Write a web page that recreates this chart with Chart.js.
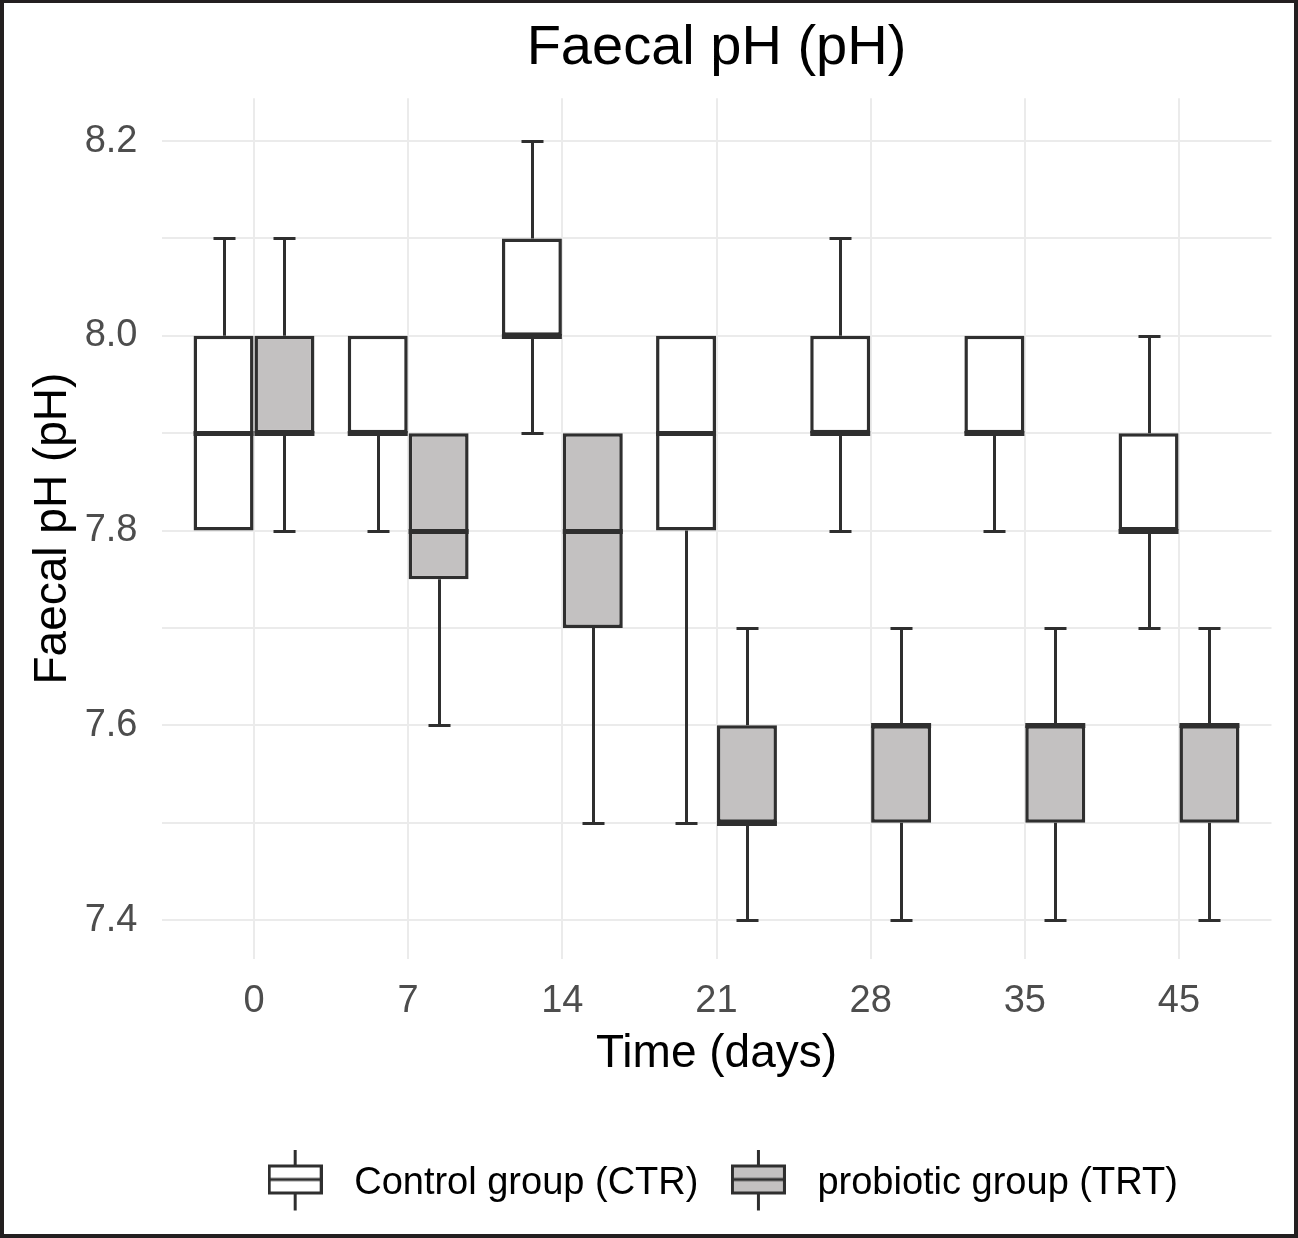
<!DOCTYPE html>
<html>
<head>
<meta charset="utf-8">
<title>Faecal pH (pH)</title>
<script src="https://cdn.jsdelivr.net/npm/chart.js@4.4.1/dist/chart.umd.min.js"></script>
<style>
  html, body { margin: 0; padding: 0; background: #fff; }
  #chart { display: block; }
</style>
</head>
<body>
<canvas id="chart" width="1298" height="1238"></canvas>
<script>
// sampling days (x categories)
const days = ['0', '7', '14', '21', '28', '35', '45'];

// control group (CTR) box statistics
const ctrMin    = [7.8, 7.8, 7.9, 7.5, 7.8, 7.8, 7.7];
const ctrQ1     = [7.8, 7.9, 8.0, 7.8, 7.9, 7.9, 7.8];
const ctrMedian = [7.9, 7.9, 8.0, 7.9, 7.9, 7.9, 7.8];
const ctrQ3     = [8.0, 8.0, 8.1, 8.0, 8.0, 8.0, 7.9];
const ctrMax    = [8.1, 8.0, 8.2, 8.0, 8.1, 8.0, 8.0];

// probiotic group (TRT) box statistics
const trtMin    = [7.8, 7.6, 7.5, 7.4, 7.4, 7.4, 7.4];
const trtQ1     = [7.9, 7.75, 7.7, 7.5, 7.5, 7.5, 7.5];
const trtMedian = [7.9, 7.8, 7.8, 7.5, 7.6, 7.6, 7.6];
const trtQ3     = [8.0, 7.9, 7.9, 7.6, 7.6, 7.6, 7.6];
const trtMax    = [8.1, 7.9, 7.9, 7.7, 7.7, 7.7, 7.7];

const groupNames = ['Control group (CTR)', 'probiotic group (TRT)'];

// y grid (major + minor) and labelled ticks
const yGridValues = [7.4, 7.5, 7.6, 7.7, 7.8, 7.9, 8.0, 8.1, 8.2];
const yTickLabels = ['7.4', '7.6', '7.8', '8.0', '8.2'];

const FONT = "'Liberation Sans', Arial, Helvetica, sans-serif";
const LINE = '#2f2f2f';
const GREY_FILL = '#c3c1c1';

const groups = [
  { q1: ctrQ1, q3: ctrQ3, lo: ctrMin, hi: ctrMax, med: ctrMedian, fill: '#ffffff' },
  { q1: trtQ1, q3: trtQ3, lo: trtMin, hi: trtMax, med: trtMedian, fill: GREY_FILL }
];

// legend key: small boxplot glyph (content sits 4px above the image centre)
function makeKey(fill) {
  const c = document.createElement('canvas');
  c.width = 55;
  c.height = 69;
  const g = c.getContext('2d');
  g.strokeStyle = LINE;
  g.lineWidth = 3;
  g.beginPath();
  g.moveTo(27.5, 0); g.lineTo(27.5, 16);
  g.moveTo(27.5, 44); g.lineTo(27.5, 61);
  g.stroke();
  g.fillStyle = fill;
  g.fillRect(1.5, 16.5, 52, 27);
  g.strokeRect(1.5, 16.5, 52, 27);
  g.beginPath();
  g.moveTo(1.5, 30); g.lineTo(53.5, 30);
  g.stroke();
  return c;
}
const keys = groups.map(gr => makeKey(gr.fill));

const crisp = v => Math.round(v) + 0.5;

const boxplotPlugin = {
  id: 'boxplot',
  beforeDraw(chart) {
    const ctx = chart.ctx;
    ctx.save();
    ctx.fillStyle = '#ffffff';
    ctx.fillRect(0, 0, chart.width, chart.height);
    ctx.restore();
  },
  beforeDatasetsDraw(chart) {
    // whiskers + caps, under the boxes (skipped where they sit on the box edge)
    const ctx = chart.ctx;
    const y = chart.scales.y;
    ctx.save();
    ctx.strokeStyle = LINE;
    ctx.lineWidth = 3;
    groups.forEach((gr, d) => {
      chart.getDatasetMeta(d).data.forEach((bar, i) => {
        const x = crisp(bar.x);
        ctx.beginPath();
        if (gr.lo[i] < gr.q1[i]) {
          const yLo = crisp(y.getPixelForValue(gr.lo[i]));
          ctx.moveTo(x, yLo); ctx.lineTo(x, y.getPixelForValue(gr.q1[i]));
          ctx.moveTo(x - 11, yLo); ctx.lineTo(x + 11, yLo);
        }
        if (gr.hi[i] > gr.q3[i]) {
          const yHi = crisp(y.getPixelForValue(gr.hi[i]));
          ctx.moveTo(x, y.getPixelForValue(gr.q3[i])); ctx.lineTo(x, yHi);
          ctx.moveTo(x - 11, yHi); ctx.lineTo(x + 11, yHi);
        }
        ctx.stroke();
      });
    });
    ctx.restore();
  },
  afterDatasetsDraw(chart) {
    // medians
    const ctx = chart.ctx;
    const y = chart.scales.y;
    ctx.save();
    ctx.strokeStyle = LINE;
    ctx.lineWidth = 5;
    groups.forEach((gr, d) => {
      chart.getDatasetMeta(d).data.forEach((bar, i) => {
        const ym = crisp(y.getPixelForValue(gr.med[i]));
        ctx.beginPath();
        ctx.moveTo(bar.x - bar.width / 2, ym);
        ctx.lineTo(bar.x + bar.width / 2, ym);
        ctx.stroke();
      });
    });
    ctx.restore();
  },
  afterDraw(chart) {
    // figure frame
    const ctx = chart.ctx;
    ctx.save();
    ctx.fillStyle = '#231f20';
    ctx.fillRect(0, 0, chart.width, 3);
    ctx.fillRect(0, 0, 4, chart.height);
    ctx.fillRect(chart.width - 4, 0, 4, chart.height);
    ctx.fillRect(0, chart.height - 4, chart.width, 4);
    ctx.restore();
  }
};

const datasets = groups.map((gr, d) => ({
  label: groupNames[d],
  data: days.map((_, i) => ({ x: i, y: [gr.q1[i], gr.q3[i]] })),
  backgroundColor: gr.fill,
  borderColor: LINE,
  borderWidth: 3.5,
  borderSkipped: false,
  categoryPercentage: 0.79,
  barPercentage: 0.985
}));

new Chart(document.getElementById('chart'), {
  type: 'bar',
  data: { datasets },
  plugins: [boxplotPlugin],
  options: {
    responsive: false,
    animation: false,
    devicePixelRatio: 1,
    layout: { padding: { left: 4, right: 26.5, top: 0, bottom: 25 } },
    scales: {
      x: {
        type: 'linear',
        min: -0.6,
        max: 6.6,
        offset: false,
        afterBuildTicks: s => { s.ticks = days.map((_, i) => ({ value: i })); },
        afterFit: s => { s.height = 186; },
        ticks: {
          callback: v => days[v],
          color: '#4d4d4d',
          padding: 20,
          font: { family: FONT, size: 38 }
        },
        grid: { color: '#ebebeb', lineWidth: 2, drawTicks: false, offset: false },
        border: { display: false },
        title: {
          display: true,
          text: 'Time (days)',
          color: '#000',
          font: { family: FONT, size: 46 },
          padding: { top: 3, bottom: 63 }
        }
      },
      y: {
        type: 'linear',
        min: 7.36,
        max: 8.244,
        afterBuildTicks: s => { s.ticks = yGridValues.map(v => ({ value: v })); },
        afterFit: s => { s.width = 157.5; },
        ticks: {
          callback: v => {
            const t = v.toFixed(1);
            return yTickLabels.includes(t) ? t : '';
          },
          color: '#4d4d4d',
          padding: 24,
          font: { family: FONT, size: 38 }
        },
        grid: { color: '#ebebeb', lineWidth: 2, drawTicks: false },
        border: { display: false },
        title: {
          display: true,
          text: 'Faecal pH (pH)',
          color: '#000',
          font: { family: FONT, size: 46 },
          padding: { top: 22, bottom: 0 }
        }
      }
    },
    plugins: {
      title: {
        display: true,
        text: 'Faecal pH (pH)',
        color: '#000',
        fullSize: false,
        font: { family: FONT, size: 56, weight: 'normal' },
        padding: { top: 15, bottom: 16 }
      },
      legend: {
        position: 'bottom',
        fullSize: false,
        labels: {
          usePointStyle: true,
          pointStyleWidth: 80,
          padding: 20,
          color: '#111',
          font: { family: FONT, size: 38 },
          generateLabels: () => groupNames.map((name, d) => ({
            text: name,
            pointStyle: keys[d],
            fillStyle: groups[d].fill,
            strokeStyle: LINE,
            lineWidth: 0,
            datasetIndex: d
          }))
        }
      },
      tooltip: { enabled: false }
    }
  }
});
</script>
</body>
</html>
